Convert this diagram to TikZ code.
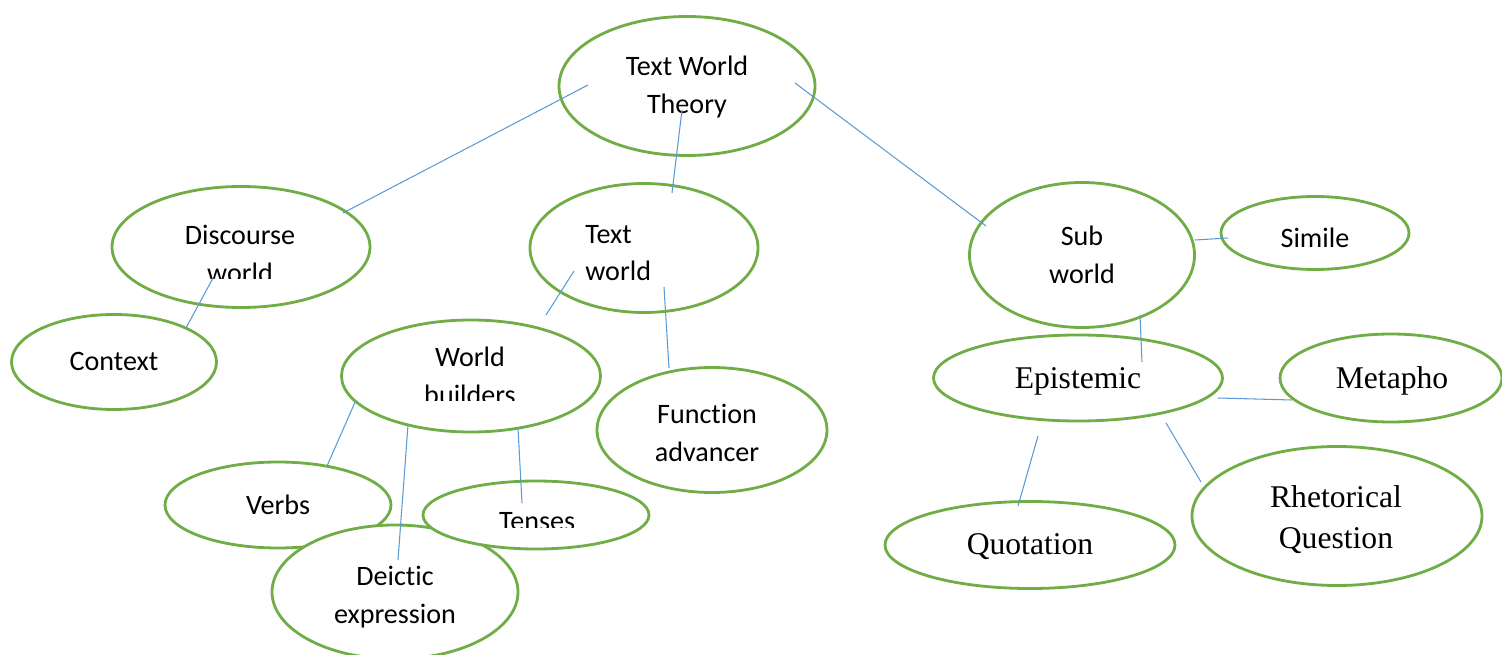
\documentclass[tikz,border=0pt]{standalone}
\usepackage{fontspec}
\setmainfont{Carlito}[Ligatures={NoCommon,NoRare}]
\newfontfamily\tnr{Liberation Serif}
\usetikzlibrary{shapes.geometric}
\definecolor{twgreen}{RGB}{112,173,71}
\definecolor{twblue}{RGB}{91,155,213}

\begin{document}
\begin{tikzpicture}[x=0.02cm,y=-0.02cm,
    bubble/.style 2 args={ellipse,draw=twgreen,fill=white,line width=1.6pt,inner sep=0pt,
        minimum width=#1*0.02cm,minimum height=#2*0.02cm},
    lbl/.style={align=center,inner sep=0pt,font=\fontsize{16}{21.5}\selectfont},
    slbl/.style={align=center,inner sep=0pt,font=\fontsize{18}{23.3}\selectfont\tnr},
    link/.style={draw=twblue,line width=0.6pt}]
        \useasboundingbox (0,0) rectangle (1502,655);
        % ends of the connectors
        \coordinate (twt1) at (588,85);
        \coordinate (twt2) at (795,83);
        \coordinate (twt3) at (682,110);
        \coordinate (dw1) at (343,213);
        \coordinate (dw2) at (213,278);
        \coordinate (ctx1) at (186,328);
        \coordinate (tw1) at (672,193);
        \coordinate (tw2) at (574,271);
        \coordinate (tw3) at (664,287);
        \coordinate (wb1) at (546,315);
        \coordinate (wb2) at (356,400);
        \coordinate (wb3) at (408,425);
        \coordinate (wb4) at (518,428);
        \coordinate (fa1) at (669,368);
        \coordinate (vb1) at (327,466);
        \coordinate (dx1) at (398,560);
        \coordinate (ts1) at (522,503);
        \coordinate (sub1) at (986,226);
        \coordinate (sub2) at (1195,240);
        \coordinate (sub3) at (1140,315);
        \coordinate (sim1) at (1228,238);
        \coordinate (epi1) at (1142,362);
        \coordinate (epi2) at (1218,398);
        \coordinate (epi3) at (1166,423);
        \coordinate (epi4) at (1038,436);
        \coordinate (met1) at (1292,400);
        \coordinate (rq1) at (1201,482);
        \coordinate (quo1) at (1018,506);
        % ellipses
        \node[bubble={256}{139}] (twt) at (687,86) {};
        \node[bubble={258}{121}] (dw) at (241,247) {};
        \node[bubble={205}{95}] (ctx) at (114,362) {};
        \node[bubble={228}{129}] (tw) at (644,248) {};
        \node[bubble={259}{112}] (wb) at (471,376) {};
        \node[bubble={230}{125}] (fa) at (712,430) {};
        \node[bubble={226}{86}] (vb) at (278,505) {};
        \node[bubble={246}{134}] (dx) at (395,592) {};
        \node[bubble={226}{68}] (ts) at (536,515) {};
        \node[bubble={225}{145}] (sub) at (1082,255) {};
        \node[bubble={188}{73}] (sim) at (1315,233) {};
        \node[bubble={289}{86}] (epi) at (1078,378) {};
        \node[bubble={222}{88}] (met) at (1391,378) {};
        \node[bubble={290}{139}] (rq) at (1337,516) {};
        \node[bubble={290}{87}] (quo) at (1030,545) {};
        % labels
        \node[lbl] (twtlbl) at (687,87) {Text World\\Theory};
        \begin{scope}
        \clip (120,200) rectangle (360,279);
        \node[lbl] (dwlbl) at (240,254) {Discourse\\world};
        \end{scope}
        \node[lbl] (ctxlbl) at (114,361) {Context};
        \node[lbl,align=left,anchor=west] (twlbl) at (585,253) {Text\\world};
        \begin{scope}
        \clip (360,330) rectangle (590,400);
        \node[lbl] (wblbl) at (470,376) {World\\builders};
        \end{scope}
        \node[lbl] (falbl) at (707,433) {Function\\advancer};
        \node[lbl] (vblbl) at (278,505) {Verbs};
        \begin{scope}
        \clip (440,500) rectangle (640,527);
        \node[lbl] (tslbl) at (537,522) {Tenses};
        \end{scope}
        \node[lbl] (dxlbl) at (395,597) {Deictic\\expression};
        \node[lbl] (sublbl) at (1082,255) {Sub\\world};
        \node[lbl] (simlbl) at (1315,238) {Simile};
        \node[slbl] (epilbl) at (1078,381) {Epistemic};
        \node[slbl] (metlbl) at (1392,381) {Metapho};
        \node[slbl] (rqlbl) at (1336,520) {Rhetorical\\Question};
        \node[slbl] (quolbl) at (1030,547) {Quotation};
        % connectors
        \draw[link] (twt1) -- (dw1);
        \draw[link] (twt2) -- (sub1);
        \draw[link] (twt3) -- (tw1);
        \draw[link] (dw2) -- (ctx1);
        \draw[link] (tw2) -- (wb1);
        \draw[link] (tw3) -- (fa1);
        \draw[link] (wb2) -- (vb1);
        \draw[link] (wb3) -- (dx1);
        \draw[link] (wb4) -- (ts1);
        \draw[link] (sub2) -- (sim1);
        \draw[link] (sub3) -- (epi1);
        \draw[link] (epi2) -- (met1);
        \draw[link] (epi3) -- (rq1);
        \draw[link] (epi4) -- (quo1);
\end{tikzpicture}
\end{document}
